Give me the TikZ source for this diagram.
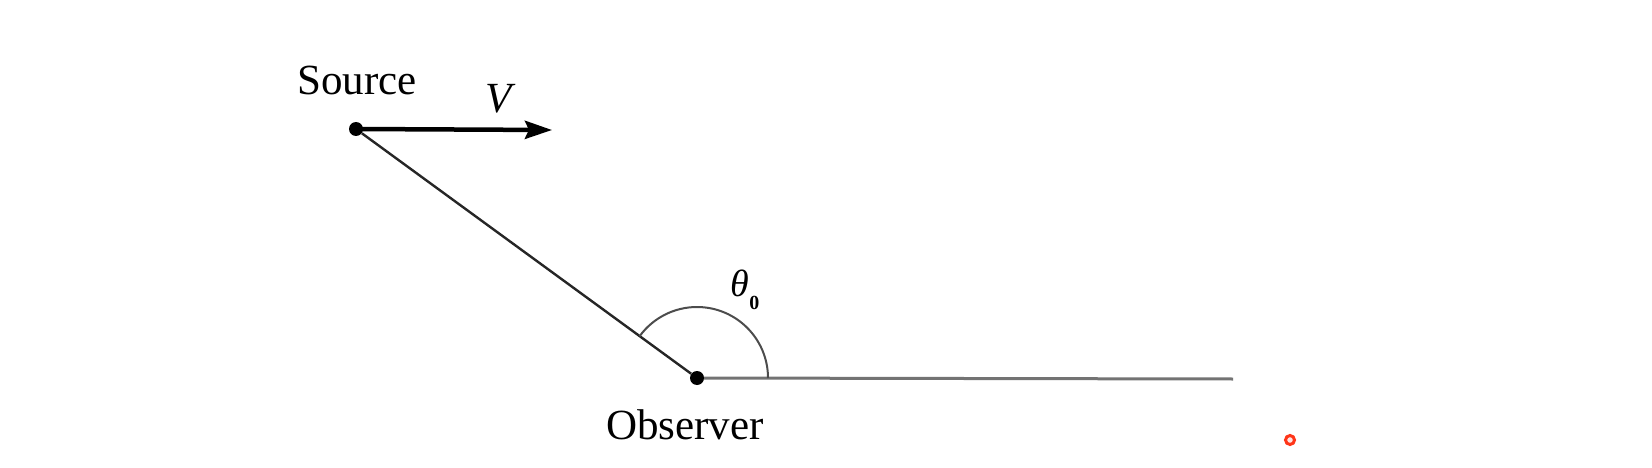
\documentclass[tikz,border=0pt]{standalone}
\usepackage{fontspec}
\setmainfont{Liberation Serif}
\usetikzlibrary{arrows.meta,calc}
\begin{document}
\begin{tikzpicture}[x=1pt,y=-1pt,
  lbl/.style={inner sep=0pt,font=\fontsize{43}{48}\selectfont},
  dotpt/.style={circle,fill=black,inner sep=0pt,minimum size=14pt},
  thinline/.style={line width=2.4pt,black!85},
  grayline/.style={line width=3pt,black!55}]
\useasboundingbox (0,0) rectangle (1652,468);
\node[dotpt] (S) at (356,129) {};
\node[dotpt] (O) at (697,378) {};
\coordinate (E) at (1233,379);
\coordinate (A) at (552,130);
\node[lbl] (src) at (357,80) {Source};
\node[lbl] (obs) at (685,425) {Observer};
\node[lbl,font=\fontsize{43}{48}\selectfont\itshape] (v) at (499,99) {V};
\node[inner sep=0pt] (th) at (745,290) {\fontsize{38}{44}\selectfont\textit{θ}\raisebox{-0.75ex}{\fontsize{20}{24}\selectfont\textbf{0}}};
\draw[thinline] (S) -- (O);
\draw[grayline] (O) -- (E);
\draw[line width=4.5pt,-{Stealth[length=27pt,width=18pt,inset=4pt]}] (S.center) -- (A);
\draw[line width=2pt,black!70] ($(O.center)+(71,0)$) arc[start angle=0,end angle=-143.9,radius=71];
\draw[line width=3pt,red!75!orange!90,fill=red!10] (1290,440) circle (4.5);
\end{tikzpicture}
\end{document}
